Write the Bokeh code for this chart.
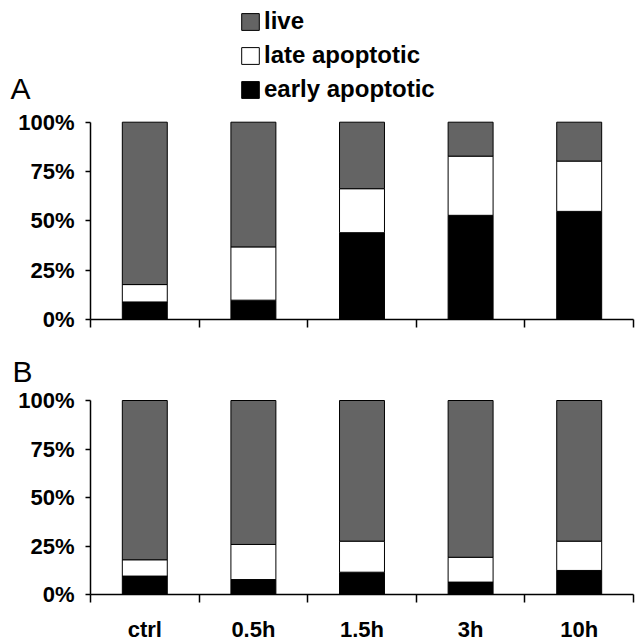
from bokeh.plotting import figure
from bokeh.models import (ColumnDataSource, Range1d, FixedTicker, Legend, LegendItem,
                          Label, PrintfTickFormatter)
from bokeh.layouts import column
from bokeh.embed import file_html
from bokeh.resources import INLINE

categories = ["ctrl", "0.5h", "1.5h", "3h", "10h"]
positions = [0.5, 1.5, 2.5, 3.5, 4.5]
boundaries = [0, 1, 2, 3, 4, 5]
y_ticks = [0, 25, 50, 75, 100]

# Panel A (percent of cells)
a_early = [8.9, 9.8, 44.0, 52.8, 54.8]
a_late = [8.8, 27.0, 22.3, 30.0, 25.5]
a_live = [82.3, 63.2, 33.7, 17.2, 19.7]

# Panel B (percent of cells)
b_early = [9.5, 7.7, 11.5, 6.4, 12.4]
b_late = [8.4, 18.1, 16.0, 12.8, 15.1]
b_live = [82.1, 74.2, 72.5, 80.8, 72.5]

series = ["early", "late", "live"]
colors = ["#000000", "#ffffff", "#646464"]
FONT = "Liberation Sans"

W = 635
CAT_PX = 108.6      # pixels per category
X0_PX = 90          # pixel position of the y axis


def make_panel(early, late, live, height, zero_px, px_per_100, show_labels):
    src = ColumnDataSource(dict(x=positions, early=early, late=late, live=live))
    x_range = Range1d(-X0_PX / CAT_PX, (W - X0_PX) / CAT_PX)
    y_range = Range1d(-(height - zero_px) / px_per_100 * 100, zero_px / px_per_100 * 100)
    p = figure(width=W, height=height, output_backend="svg", toolbar_location=None,
               x_range=x_range, y_range=y_range,
               min_border_left=0, min_border_right=0,
               min_border_top=0, min_border_bottom=0)
    p.outline_line_color = None
    p.grid.visible = False
    p.background_fill_color = "white"
    rs = p.vbar_stack(series, x="x", width=0.414, source=src, fill_color=colors,
                      line_color="black", line_width=1)

    # y axis drawn at x = 0
    ya = p.yaxis[0]
    ya.fixed_location = 0
    ya.bounds = (0, 100)
    ya.ticker = FixedTicker(ticks=y_ticks)
    ya.formatter = PrintfTickFormatter(format="%d%%")
    ya.axis_line_width = 1.5
    ya.major_tick_line_width = 1.5
    ya.major_tick_out = 5
    ya.major_tick_in = 0
    ya.minor_tick_line_color = None
    ya.major_label_standoff = 11
    ya.major_label_text_font = FONT
    ya.major_label_text_font_style = "bold"
    ya.major_label_text_font_size = "22px"
    ya.major_label_text_color = "black"

    # x axis at y = 0: ticks between categories, labels at centres
    xa = p.xaxis[0]
    xa.fixed_location = 0
    xa.bounds = (0, 5)
    if show_labels:
        xa.ticker = FixedTicker(ticks=positions, minor_ticks=boundaries)
        xa.major_label_overrides = {pos: cat for pos, cat in zip(positions, categories)}
    else:
        xa.ticker = FixedTicker(ticks=[], minor_ticks=boundaries)
    xa.axis_line_width = 1.5
    xa.major_tick_line_color = None
    xa.major_tick_out = 0
    xa.major_tick_in = 0
    xa.minor_tick_line_color = "black"
    xa.minor_tick_line_width = 1.5
    xa.minor_tick_out = 8
    xa.minor_tick_in = 0
    xa.major_label_standoff = 14
    xa.major_label_text_font = FONT
    xa.major_label_text_font_style = "bold"
    xa.major_label_text_font_size = "22px"
    xa.major_label_text_color = "black"
    return p, rs


HA, HB = 350, 294
pa, rsa = make_panel(a_early, a_late, a_live, HA, 319, 197.3, False)
pb, rsb = make_panel(b_early, b_late, b_live, HB, 244, 194.0, True)

legend = Legend(items=[LegendItem(label="live", renderers=[rsa[2]]),
                       LegendItem(label="late apoptotic", renderers=[rsa[1]]),
                       LegendItem(label="early apoptotic", renderers=[rsa[0]])],
                location=(239, HA - 103), orientation="vertical",
                padding=0, margin=0, spacing=6,
                glyph_width=22, glyph_height=21, label_height=17,
                label_standoff=3,
                label_text_font=FONT, label_text_font_style="bold",
                label_text_font_size="24px", label_text_color="black",
                border_line_color=None, background_fill_alpha=0)
pa.add_layout(legend)

pa.add_layout(Label(x=10, y=HA - 88, x_units="screen", y_units="screen", text="A",
                    text_font=FONT, text_font_size="30px", text_color="black",
                    text_align="left", text_baseline="alphabetic"))
pb.add_layout(Label(x=12, y=HB - 21, x_units="screen", y_units="screen", text="B",
                    text_font=FONT, text_font_size="30px", text_color="black",
                    text_align="left", text_baseline="alphabetic"))

layout = column(pa, pb, spacing=0)
open("out.html", "w").write(file_html(layout, INLINE))
